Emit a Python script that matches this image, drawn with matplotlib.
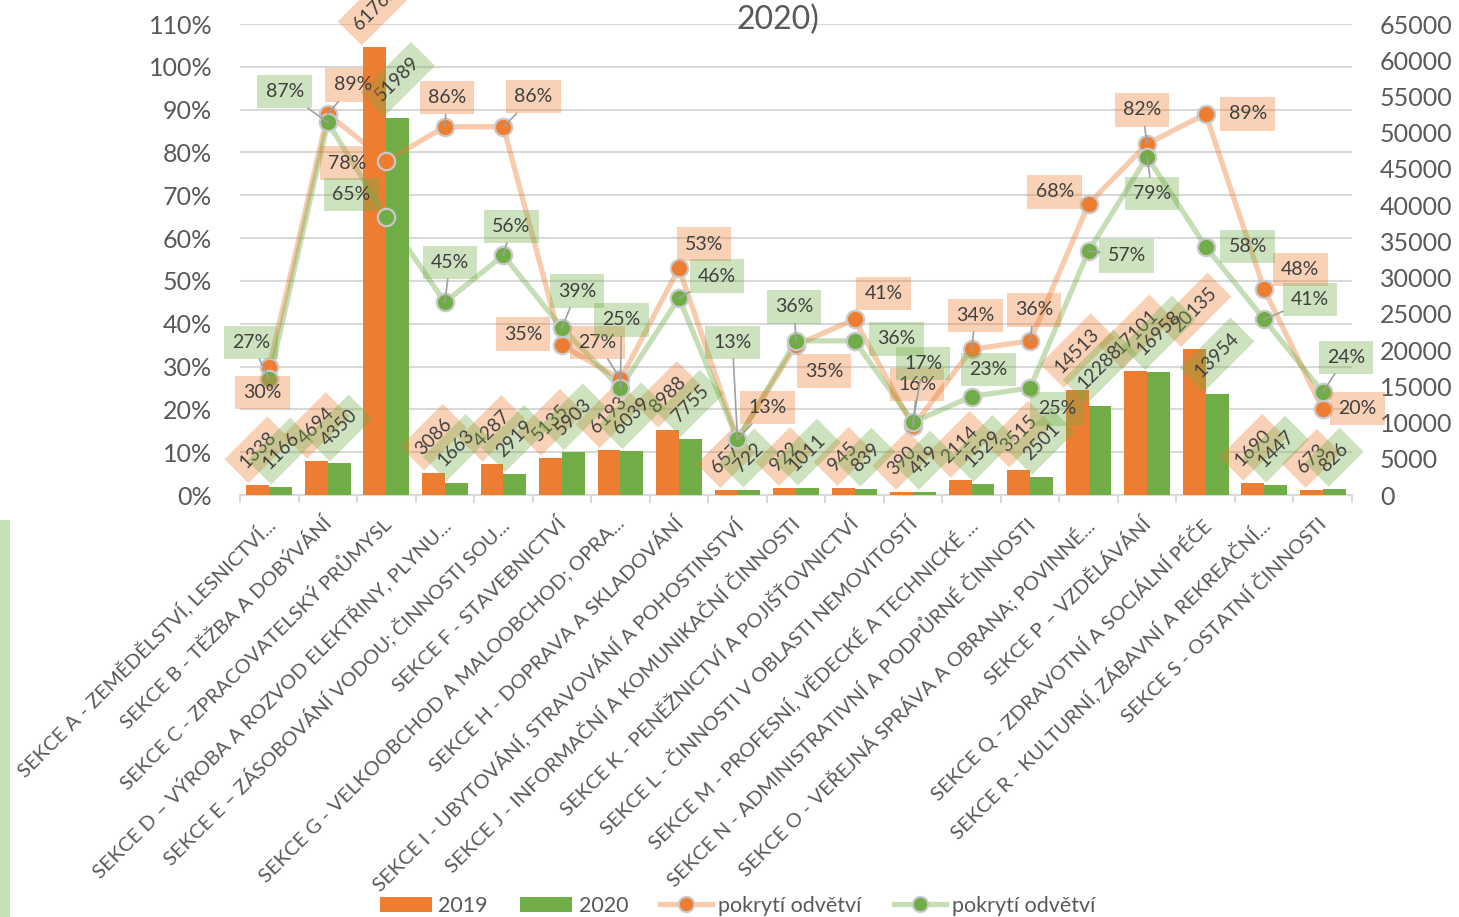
import matplotlib
matplotlib.use('Agg')
import matplotlib.pyplot as plt
import matplotlib.transforms as mtransforms
from matplotlib.patches import Patch, Rectangle
from matplotlib.lines import Line2D

plt.rcParams['font.family'] = ['Lato', 'DejaVu Sans']

# ---------------- data ----------------
categories = [
    "SEKCE A - ZEMĚDĚLSTVÍ, LESNICTVÍ...",
    "SEKCE B - TĚŽBA A DOBÝVÁNÍ",
    "SEKCE C - ZPRACOVATELSKÝ PRŮMYSL",
    "SEKCE D – VÝROBA A ROZVOD ELEKTŘINY, PLYNU...",
    "SEKCE E – ZÁSOBOVÁNÍ VODOU; ČINNOSTI SOU...",
    "SEKCE F - STAVEBNICTVÍ",
    "SEKCE G - VELKOOBCHOD A MALOOBCHOD; OPRA...",
    "SEKCE H - DOPRAVA A SKLADOVÁNÍ",
    "SEKCE I - UBYTOVÁNÍ, STRAVOVÁNÍ A POHOSTINSTVÍ",
    "SEKCE J - INFORMAČNÍ A KOMUNIKAČNÍ ČINNOSTI",
    "SEKCE K - PENĚŽNICTVÍ A POJIŠŤOVNICTVÍ",
    "SEKCE L - ČINNOSTI V OBLASTI NEMOVITOSTÍ",
    "SEKCE M - PROFESNÍ, VĚDECKÉ A TECHNICKÉ ...",
    "SEKCE N - ADMINISTRATIVNÍ A PODPŮRNÉ ČINNOSTI",
    "SEKCE O - VEŘEJNÁ SPRÁVA A OBRANA; POVINNÉ...",
    "SEKCE P – VZDĚLÁVÁNÍ",
    "SEKCE Q - ZDRAVOTNÍ A SOCIÁLNÍ PÉČE",
    "SEKCE R - KULTURNÍ, ZÁBAVNÍ A REKREAČNÍ...",
    "SEKCE S - OSTATNÍ ČINNOSTI",
]
counts_2019 = [1338, 4694, 61762, 3086, 4287, 5135, 6193, 8988, 657, 922,
               945, 390, 2114, 3515, 14513, 17101, 20135, 1690, 673]
counts_2020 = [1166, 4350, 51989, 1663, 2919, 5903, 6039, 7755, 722, 1011,
               839, 419, 1529, 2501, 12288, 16958, 13954, 1447, 826]
cover_2019 = [0.30, 0.89, 0.78, 0.86, 0.86, 0.35, 0.27, 0.53, 0.13, 0.35,
              0.41, 0.16, 0.34, 0.36, 0.68, 0.82, 0.89, 0.48, 0.20]
cover_2020 = [0.27, 0.87, 0.65, 0.45, 0.56, 0.39, 0.25, 0.46, 0.13, 0.36,
              0.36, 0.17, 0.23, 0.25, 0.57, 0.79, 0.58, 0.41, 0.24]
series_labels = ["2019", "2020", "pokrytí odvětví", "pokrytí odvětví"]
title_visible = "2020)"

# ---------------- label layout (pixel offsets of the boxes) ----------------
offs_2019 = [(-7, -26), (25, 29), (-39, -2), (2, 29), (30, 30), (-39, 11), (-23, 37),
             (25, 24), (30, 32), (28, -26), (29, 26), (4, 42), (4, 34), (4, 31),
             (-34, 12), (-5, 34), (42, 0), (36, 20), (35, 1)]
lead_2019 = [0, 1, 0, 1, 1, 0, 1, 0, 1, 0, 0, 1, 1, 1, 0, 1, 0, 0, 0]
offs_2020 = [(-18, 37), (-43, 31), (-35, 22), (5, 40), (8, 29), (15, 37), (1, 68),
             (38, 22), (-5, 97), (-2, 34), (42, 2), (10, 59), (17, 27), (27, -21),
             (38, -5), (5, -37), (42, 0), (46, 20), (23, 35)]
lead_2020 = [1, 1, 0, 1, 1, 1, 1, 1, 1, 1, 0, 1, 0, 0, 1, 1, 0, 1, 1]

ORANGE = '#ED7D31'
GREEN = '#70AD47'
ORANGE_BOX = (237/255, 125/255, 49/255, 0.35)
GREEN_BOX = (112/255, 173/255, 71/255, 0.35)
ORANGE_LINE = (237/255, 125/255, 49/255, 0.40)
GREEN_LINE = (112/255, 173/255, 71/255, 0.40)
TXT = '#404040'
TICK = '#595959'
GRID = '#D9D9D9'

W, H = 1459, 917
fig = plt.figure(figsize=(W/100, H/100), dpi=100)

left, right, bottom, top = 240, 1352, 495, 24
rect = [left/W, 1 - bottom/H, (right-left)/W, (bottom-top)/H]

ax = fig.add_axes(rect)          # base: grid, left % ticks, categories
ax2 = ax.twinx()                 # bars, right axis
ax3 = ax.twinx()                 # lines, left scale
n = len(categories)
xs = list(range(n))

ax.set_xlim(-0.5, n - 0.5)
ax.set_ylim(0, 1.1)
ax3.set_ylim(0, 1.1)
ax2.set_ylim(0, 65000)

ax.set_yticks([i/10 for i in range(12)])
ax.set_yticklabels([f"{i*10}%" for i in range(12)])
ax.yaxis.grid(True, color=GRID, lw=1.5)
ax.set_axisbelow(True)
ax.tick_params(axis='y', length=0, pad=20, labelsize=18, labelcolor=TICK)

ax2.set_yticks(range(0, 65001, 5000))
ax2.tick_params(axis='y', length=0, pad=20, labelsize=18, labelcolor=TICK)
ax3.set_yticks([])

for a in (ax, ax2, ax3):
    for s in ('top', 'right', 'left'):
        a.spines[s].set_visible(False)
ax.spines['bottom'].set_color(GRID)
ax.spines['bottom'].set_linewidth(1.5)
for a in (ax2, ax3):
    a.spines['bottom'].set_visible(False)

ax.set_xticks(xs)
ax.set_xticklabels(categories, rotation=45, ha='right', va='top',
                   rotation_mode='anchor', fontsize=14.6, color=TICK)
ax.set_xticks([i - 0.5 for i in range(n + 1)], minor=True)
ax.tick_params(axis='x', which='major', length=0, pad=14)
ax.tick_params(axis='x', which='minor', length=6, color=GRID, width=1.5)
shift = mtransforms.ScaledTranslation(-5/100, 0, fig.dpi_scale_trans)
for lab in ax.get_xticklabels():
    lab.set_transform(lab.get_transform() + shift)

# bars
bw = 0.39
x19 = [x - bw/2 for x in xs]
x20 = [x + bw/2 for x in xs]
ax2.bar(x19, counts_2019, width=bw, color=ORANGE, zorder=2)
ax2.bar(x20, counts_2020, width=bw, color=GREEN, zorder=2)


def bar_labels(a, xpos, vals, fc):
    for x, v in zip(xpos, vals):
        s = str(v)
        off_px = (len(s)*10.5 + 16 + 34)/2.83 + 3
        a.annotate(s, xy=(x, v), xytext=(0, off_px*0.72), textcoords='offset points',
                   rotation=45, ha='center', va='center', fontsize=13.5, color=TXT,
                   bbox=dict(boxstyle='square,pad=0.45', fc=fc, ec='none'), zorder=4)


bar_labels(ax2, x19, counts_2019, ORANGE_BOX)
bar_labels(ax2, x20, counts_2020, GREEN_BOX)

# lines
ax3.plot(xs, cover_2019, color=ORANGE_LINE, lw=3.8, solid_capstyle='round', zorder=3)
ax3.plot(xs, cover_2020, color=GREEN_LINE, lw=3.8, solid_capstyle='round', zorder=3)
ax3.plot(xs, cover_2019, ls='none', marker='o', ms=12.5, mfc=ORANGE, mec='#C9C9C9', mew=1.6, zorder=5)
ax3.plot(xs, cover_2020, ls='none', marker='o', ms=12.5, mfc=GREEN, mec='#C9C9C9', mew=1.6, zorder=5)


def pct_labels(a, vals, offs, leads, fc):
    for i, (v, (dx, dy), ld) in enumerate(zip(vals, offs, leads)):
        ap = dict(arrowstyle='-', color='#A0A0A0', lw=1.2, shrinkA=0, shrinkB=0) if ld else None
        a.annotate(f"{v*100:.0f}%", xy=(i, v), xytext=(dx*0.72, dy*0.72),
                   textcoords='offset points', ha='center', va='center',
                   fontsize=14, color=TXT,
                   bbox=dict(boxstyle='square,pad=0.42', fc=fc, ec='none'),
                   arrowprops=ap, zorder=6)


pct_labels(ax3, cover_2019, offs_2019, lead_2019, ORANGE_BOX)
pct_labels(ax3, cover_2020, offs_2020, lead_2020, GREEN_BOX)

# title fragment (rest is clipped above the figure)
fig.text(778/W, 1 - 20/H, title_visible, ha='center', va='center', fontsize=23, color=TICK)

# left decorative strip
fig.patches.append(Rectangle((0, 0), 10/W, 1 - 520/H, transform=fig.transFigure,
                             facecolor='#C5E0B4', edgecolor='none'))

# legend
handles = [
    Patch(facecolor=ORANGE, edgecolor='none'),
    Patch(facecolor=GREEN, edgecolor='none'),
    Line2D([], [], color=ORANGE_LINE, lw=3.8, marker='o', ms=11, mfc=ORANGE, mec='#C9C9C9', mew=1.5),
    Line2D([], [], color=GREEN_LINE, lw=3.8, marker='o', ms=11, mfc=GREEN, mec='#C9C9C9', mew=1.5),
]
fig.legend(handles, series_labels, loc='center', bbox_to_anchor=(738/W, 1 - 906/H),
           ncol=4, frameon=False, fontsize=15.5, labelcolor=TICK,
           handlelength=2.4, handleheight=0.7, handletextpad=0.3, columnspacing=1.5)

fig.savefig('out.png', dpi=100)
